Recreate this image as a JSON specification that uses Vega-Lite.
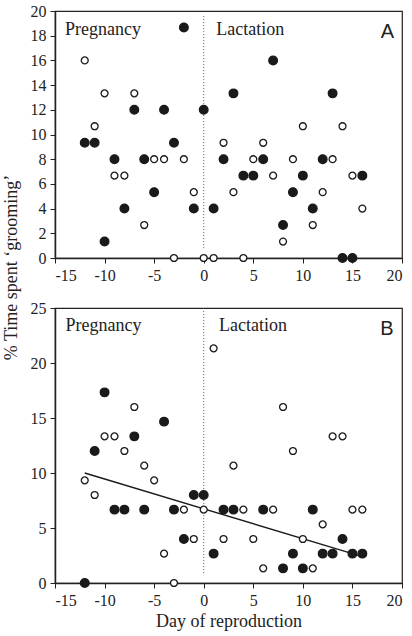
{
  "$schema": "https://vega.github.io/schema/vega-lite/v6.json",
  "padding": {"left": 1, "top": 2, "right": 5, "bottom": 5},
  "bounds": "flush",
  "spacing": 50,
  "config": {
    "font": "Liberation Serif",
    "view": {"stroke": "#222", "strokeWidth": 1.2},
    "axis": {
      "grid": false,
      "domainColor": "#222",
      "domainWidth": 1.5,
      "tickColor": "#222",
      "tickSize": 5,
      "labelColor": "#222",
      "titleColor": "#222",
      "labelFont": "Liberation Serif",
      "titleFont": "Liberation Serif",
      "labelFontSize": 16,
      "titleFontSize": 17,
      "titleFontWeight": "normal",
      "labelPadding": 4,
      "labelOverlap": false
    }
  },
  "datasets": {
    "a": [
      {"day": -12, "pct": 9.33, "series": "filled"},
      {"day": -11, "pct": 9.33, "series": "filled"},
      {"day": -10, "pct": 1.33, "series": "filled"},
      {"day": -9, "pct": 8, "series": "filled"},
      {"day": -8, "pct": 4, "series": "filled"},
      {"day": -7, "pct": 12, "series": "filled"},
      {"day": -6, "pct": 8, "series": "filled"},
      {"day": -5, "pct": 5.33, "series": "filled"},
      {"day": -4, "pct": 12, "series": "filled"},
      {"day": -3, "pct": 9.33, "series": "filled"},
      {"day": -2, "pct": 18.67, "series": "filled"},
      {"day": -1, "pct": 4, "series": "filled"},
      {"day": 0, "pct": 12, "series": "filled"},
      {"day": 1, "pct": 4, "series": "filled"},
      {"day": 2, "pct": 8, "series": "filled"},
      {"day": 3, "pct": 13.33, "series": "filled"},
      {"day": 4, "pct": 6.67, "series": "filled"},
      {"day": 5, "pct": 6.67, "series": "filled"},
      {"day": 6, "pct": 8, "series": "filled"},
      {"day": 7, "pct": 16, "series": "filled"},
      {"day": 8, "pct": 2.67, "series": "filled"},
      {"day": 9, "pct": 5.33, "series": "filled"},
      {"day": 10, "pct": 6.67, "series": "filled"},
      {"day": 11, "pct": 4, "series": "filled"},
      {"day": 12, "pct": 8, "series": "filled"},
      {"day": 13, "pct": 13.33, "series": "filled"},
      {"day": 14, "pct": 0, "series": "filled"},
      {"day": 15, "pct": 0, "series": "filled"},
      {"day": 16, "pct": 6.67, "series": "filled"},
      {"day": -12, "pct": 16, "series": "open"},
      {"day": -11, "pct": 10.67, "series": "open"},
      {"day": -10, "pct": 13.33, "series": "open"},
      {"day": -9, "pct": 6.67, "series": "open"},
      {"day": -8, "pct": 6.67, "series": "open"},
      {"day": -7, "pct": 13.33, "series": "open"},
      {"day": -6, "pct": 2.67, "series": "open"},
      {"day": -5, "pct": 8, "series": "open"},
      {"day": -4, "pct": 8, "series": "open"},
      {"day": -3, "pct": 0, "series": "open"},
      {"day": -2, "pct": 8, "series": "open"},
      {"day": -1, "pct": 5.33, "series": "open"},
      {"day": 0, "pct": 0, "series": "open"},
      {"day": 1, "pct": 0, "series": "open"},
      {"day": 2, "pct": 9.33, "series": "open"},
      {"day": 3, "pct": 5.33, "series": "open"},
      {"day": 4, "pct": 0, "series": "open"},
      {"day": 5, "pct": 8, "series": "open"},
      {"day": 6, "pct": 9.33, "series": "open"},
      {"day": 7, "pct": 6.67, "series": "open"},
      {"day": 8, "pct": 1.33, "series": "open"},
      {"day": 9, "pct": 8, "series": "open"},
      {"day": 10, "pct": 10.67, "series": "open"},
      {"day": 11, "pct": 2.67, "series": "open"},
      {"day": 12, "pct": 5.33, "series": "open"},
      {"day": 13, "pct": 8, "series": "open"},
      {"day": 14, "pct": 10.67, "series": "open"},
      {"day": 15, "pct": 6.67, "series": "open"},
      {"day": 16, "pct": 4, "series": "open"}
    ],
    "b": [
      {"day": -12, "pct": 0, "series": "filled"},
      {"day": -11, "pct": 12, "series": "filled"},
      {"day": -10, "pct": 17.33, "series": "filled"},
      {"day": -9, "pct": 6.67, "series": "filled"},
      {"day": -8, "pct": 6.67, "series": "filled"},
      {"day": -7, "pct": 13.33, "series": "filled"},
      {"day": -6, "pct": 6.67, "series": "filled"},
      {"day": -4, "pct": 14.67, "series": "filled"},
      {"day": -3, "pct": 6.67, "series": "filled"},
      {"day": -2, "pct": 4, "series": "filled"},
      {"day": -1, "pct": 8, "series": "filled"},
      {"day": 0, "pct": 8, "series": "filled"},
      {"day": 1, "pct": 2.67, "series": "filled"},
      {"day": 2, "pct": 6.67, "series": "filled"},
      {"day": 3, "pct": 6.67, "series": "filled"},
      {"day": 6, "pct": 6.67, "series": "filled"},
      {"day": 8, "pct": 1.33, "series": "filled"},
      {"day": 9, "pct": 2.67, "series": "filled"},
      {"day": 10, "pct": 1.33, "series": "filled"},
      {"day": 11, "pct": 6.67, "series": "filled"},
      {"day": 12, "pct": 2.67, "series": "filled"},
      {"day": 13, "pct": 2.67, "series": "filled"},
      {"day": 14, "pct": 4, "series": "filled"},
      {"day": 15, "pct": 2.67, "series": "filled"},
      {"day": 16, "pct": 2.67, "series": "filled"},
      {"day": -12, "pct": 9.33, "series": "open"},
      {"day": -11, "pct": 8, "series": "open"},
      {"day": -10, "pct": 13.33, "series": "open"},
      {"day": -9, "pct": 13.33, "series": "open"},
      {"day": -8, "pct": 12, "series": "open"},
      {"day": -7, "pct": 16, "series": "open"},
      {"day": -6, "pct": 10.67, "series": "open"},
      {"day": -5, "pct": 9.33, "series": "open"},
      {"day": -4, "pct": 2.67, "series": "open"},
      {"day": -3, "pct": 0, "series": "open"},
      {"day": -2, "pct": 6.67, "series": "open"},
      {"day": -1, "pct": 4, "series": "open"},
      {"day": 0, "pct": 6.67, "series": "open"},
      {"day": 1, "pct": 21.33, "series": "open"},
      {"day": 2, "pct": 4, "series": "open"},
      {"day": 3, "pct": 10.67, "series": "open"},
      {"day": 4, "pct": 6.67, "series": "open"},
      {"day": 5, "pct": 4, "series": "open"},
      {"day": 6, "pct": 1.33, "series": "open"},
      {"day": 7, "pct": 6.67, "series": "open"},
      {"day": 8, "pct": 16, "series": "open"},
      {"day": 9, "pct": 12, "series": "open"},
      {"day": 10, "pct": 4, "series": "open"},
      {"day": 11, "pct": 1.33, "series": "open"},
      {"day": 12, "pct": 5.33, "series": "open"},
      {"day": 13, "pct": 13.33, "series": "open"},
      {"day": 14, "pct": 13.33, "series": "open"},
      {"day": 15, "pct": 6.67, "series": "open"},
      {"day": 16, "pct": 6.67, "series": "open"}
    ],
    "fit": [
      {"day": -12, "pct": 10.0},
      {"day": 16, "pct": 2.4}
    ],
    "one": [{}]
  },
  "vconcat": [
    {
      "width": 347,
      "height": 247,
      "layer": [
        {
          "data": {"name": "one"},
          "mark": {"type": "rule", "strokeDash": [1, 2], "color": "#555", "strokeWidth": 1},
          "encoding": {
            "x": {"datum": 0, "type": "quantitative"},
            "y": {"datum": 0.8, "type": "quantitative"},
            "y2": {"datum": 19.6}
          }
        },
        {
          "data": {"name": "a"},
          "mark": {"type": "point", "shape": "circle", "filled": false, "stroke": "#1a1a1a", "strokeWidth": 1.3, "opacity": 1},
          "encoding": {
            "x": {
              "field": "day", "type": "quantitative",
              "scale": {"domain": [-15, 20], "nice": false, "zero": false},
              "axis": {"title": null, "values": [-15, -10, -5, 0, 5, 10, 15, 20], "tickCount": 20, "labelExpr": "'' + datum.value"}
            },
            "y": {
              "field": "pct", "type": "quantitative",
              "scale": {"domain": [0, 20], "nice": false},
              "axis": {"title": null, "values": [0, 2, 4, 6, 8, 10, 12, 14, 16, 18, 20], "tickCount": 20}
            },
            "fill": {"field": "series", "type": "nominal", "scale": {"domain": ["filled", "open"], "range": ["#1a1a1a", "#ffffff"]}, "legend": null},
            "size": {"field": "series", "type": "nominal", "scale": {"domain": ["filled", "open"], "range": [75, 48]}, "legend": null}
          }
        },
        {
          "data": {"name": "one"},
          "mark": {"type": "text", "align": "left", "baseline": "alphabetic", "fontSize": 18, "font": "Liberation Serif", "color": "#222"},
          "encoding": {
            "x": {"datum": -14, "type": "quantitative"},
            "y": {"datum": 18.05, "type": "quantitative"},
            "text": {"value": "Pregnancy"}
          }
        },
        {
          "data": {"name": "one"},
          "mark": {"type": "text", "align": "left", "baseline": "alphabetic", "fontSize": 18, "font": "Liberation Serif", "color": "#222"},
          "encoding": {
            "x": {"datum": 1.27, "type": "quantitative"},
            "y": {"datum": 18.05, "type": "quantitative"},
            "text": {"value": "Lactation"}
          }
        },
        {
          "data": {"name": "one"},
          "mark": {"type": "text", "align": "right", "baseline": "alphabetic", "fontSize": 20, "font": "Liberation Sans", "color": "#222"},
          "encoding": {
            "x": {"datum": 19.2, "type": "quantitative"},
            "y": {"datum": 17.8, "type": "quantitative"},
            "text": {"value": "A"}
          }
        }
      ]
    },
    {
      "width": 347,
      "height": 275,
      "layer": [
        {
          "data": {"name": "one"},
          "mark": {"type": "rule", "strokeDash": [1, 2], "color": "#555", "strokeWidth": 1},
          "encoding": {
            "x": {"datum": 0, "type": "quantitative"},
            "y": {"datum": 0.9, "type": "quantitative"},
            "y2": {"datum": 25}
          }
        },
        {
          "data": {"name": "fit"},
          "mark": {"type": "line", "color": "#1a1a1a", "strokeWidth": 1.4},
          "encoding": {
            "x": {"field": "day", "type": "quantitative"},
            "y": {"field": "pct", "type": "quantitative"}
          }
        },
        {
          "data": {"name": "b"},
          "mark": {"type": "point", "shape": "circle", "filled": false, "stroke": "#1a1a1a", "strokeWidth": 1.3, "opacity": 1},
          "encoding": {
            "x": {
              "field": "day", "type": "quantitative",
              "scale": {"domain": [-15, 20], "nice": false, "zero": false},
              "axis": {"title": "Day of reproduction", "values": [-15, -10, -5, 0, 5, 10, 15, 20], "tickCount": 20, "labelExpr": "'' + datum.value", "titlePadding": 4, "titleFontSize": 18}
            },
            "y": {
              "field": "pct", "type": "quantitative",
              "scale": {"domain": [0, 25], "nice": false},
              "axis": {"title": "% Time spent ‘grooming’", "values": [0, 5, 10, 15, 20, 25], "tickCount": 20, "titleX": -44, "titleY": -41, "titleFontSize": 18, "titleBaseline": "middle", "titleAnchor": "middle", "titleAlign": "center"}
            },
            "fill": {"field": "series", "type": "nominal", "scale": {"domain": ["filled", "open"], "range": ["#1a1a1a", "#ffffff"]}, "legend": null},
            "size": {"field": "series", "type": "nominal", "scale": {"domain": ["filled", "open"], "range": [75, 48]}, "legend": null}
          }
        },
        {
          "data": {"name": "one"},
          "mark": {"type": "text", "align": "left", "baseline": "alphabetic", "fontSize": 18, "font": "Liberation Serif", "color": "#222"},
          "encoding": {
            "x": {"datum": -13.95, "type": "quantitative"},
            "y": {"datum": 22.88, "type": "quantitative"},
            "text": {"value": "Pregnancy"}
          }
        },
        {
          "data": {"name": "one"},
          "mark": {"type": "text", "align": "left", "baseline": "alphabetic", "fontSize": 18, "font": "Liberation Serif", "color": "#222"},
          "encoding": {
            "x": {"datum": 1.55, "type": "quantitative"},
            "y": {"datum": 22.88, "type": "quantitative"},
            "text": {"value": "Lactation"}
          }
        },
        {
          "data": {"name": "one"},
          "mark": {"type": "text", "align": "right", "baseline": "alphabetic", "fontSize": 20, "font": "Liberation Sans", "color": "#222"},
          "encoding": {
            "x": {"datum": 19.15, "type": "quantitative"},
            "y": {"datum": 22.58, "type": "quantitative"},
            "text": {"value": "B"}
          }
        }
      ]
    }
  ]
}
